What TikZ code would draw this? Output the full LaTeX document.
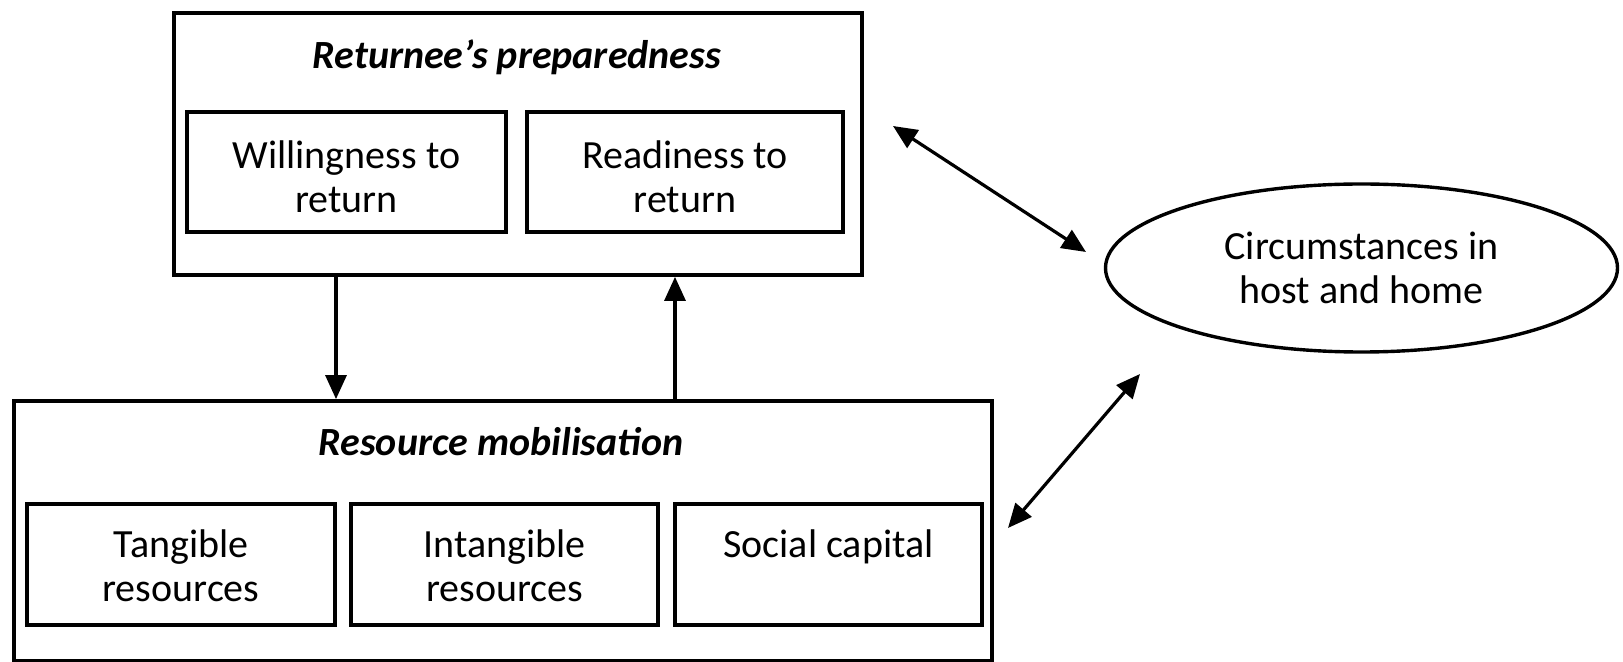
\documentclass[tikz,border=0pt]{standalone}
\usepackage{fontspec}
\setmainfont{Carlito}
\usetikzlibrary{shapes.geometric,arrows.meta}
\begin{document}
\begin{tikzpicture}[x=0.5pt,y=-0.5pt,
  outerbox/.style={draw, line width=1.9pt, inner sep=0pt},
  subbox/.style={draw, line width=1.8pt, inner sep=0pt},
  txt/.style={font=\fontsize{20}{22}\selectfont, align=center, inner sep=0pt},
  ttl/.style={font=\fontsize{20}{22}\selectfont\bfseries\itshape, inner sep=0pt},
  arr/.style={line width=1.6pt, -{Triangle[length=12pt,width=10.5pt]}},
  darr/.style={line width=1.6pt, {Triangle[length=12pt,width=10.5pt]}-{Triangle[length=12pt,width=10.5pt]}}]
\useasboundingbox (0,0) rectangle (1623,662);
% top group
\node[outerbox, minimum width=344pt, minimum height=131pt] (top) at (518,144) {};
\node[ttl] (toptitle) at (517,57) {Returnee’s preparedness};
\node[subbox, minimum width=159.5pt, minimum height=60pt] (will) at (346.5,172) {};
\node[txt] (willt) at (346.5,177) {Willingness to\\return};
\node[subbox, minimum width=158pt, minimum height=60pt] (read) at (685,172) {};
\node[txt] (readt) at (685,177) {Readiness to\\return};
% bottom group
\node[outerbox, minimum width=489pt, minimum height=130pt] (bot) at (503,531) {};
\node[ttl] (bottitle) at (501,442) {Resource mobilisation};
\node[subbox, minimum width=154pt, minimum height=60.5pt] (tang) at (181,564.5) {};
\node[txt, anchor=north] (tangt) at (181,529) {Tangible\\resources};
\node[subbox, minimum width=153.5pt, minimum height=60.5pt] (intg) at (504.5,564.5) {};
\node[txt, anchor=north] (intgt) at (504.5,529) {Intangible\\resources};
\node[subbox, minimum width=153.5pt, minimum height=60.5pt] (soc) at (828.5,564.5) {};
\node[txt, anchor=north] (soct) at (828.5,529) {Social capital};
% ellipse
\node[ellipse, draw, line width=1.7pt, minimum width=256pt, minimum height=84pt, txt] (circ) at (1361.5,268) {Circumstances in\\host and home};
% connectors
\coordinate (dx) at (336,0);
\coordinate (ux) at (675,0);
\draw[arr] (top.south -| dx) -- (bot.north -| dx);
\draw[arr] (bot.north -| ux) -- (top.south -| ux);
\coordinate (a1) at (893,126);
\coordinate (a2) at (1086,252);
\coordinate (b1) at (1008,528);
\coordinate (b2) at (1140,374);
\draw[darr] (a1) -- (a2);
\draw[darr] (b1) -- (b2);
\end{tikzpicture}
\end{document}
